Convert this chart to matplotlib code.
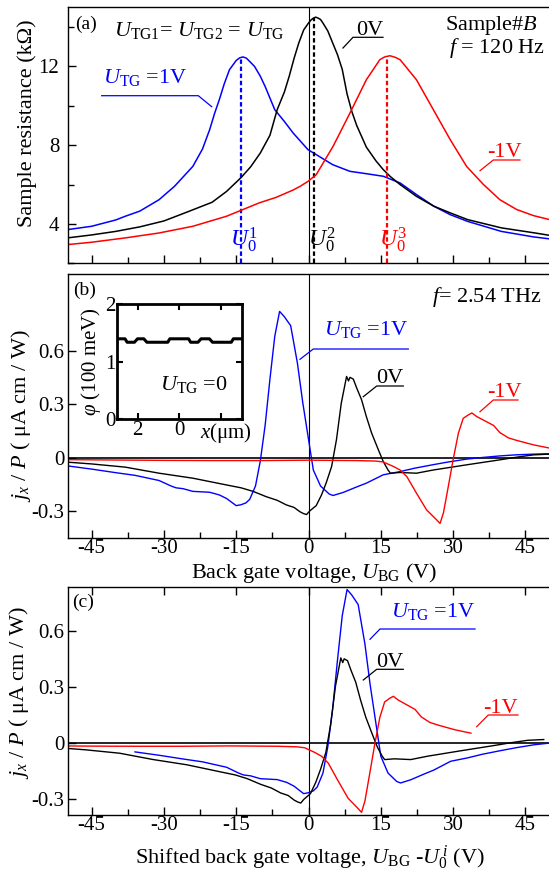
import numpy as np
import matplotlib
matplotlib.use("Agg")
import matplotlib.pyplot as plt
from matplotlib.lines import Line2D
from matplotlib.ticker import MultipleLocator, FixedLocator, FuncFormatter

plt.rcParams['font.family'] = ['Liberation Serif', 'DejaVu Serif']
plt.rcParams['mathtext.fontset'] = 'custom'
plt.rcParams['mathtext.rm'] = 'Liberation Serif'
plt.rcParams['mathtext.it'] = 'Liberation Serif:italic'
plt.rcParams['mathtext.bf'] = 'Liberation Serif:bold'
plt.rcParams['font.size'] = 16
plt.rcParams['xtick.labelsize'] = 15
plt.rcParams['ytick.labelsize'] = 15
plt.rcParams['axes.unicode_minus'] = False

# ---- panel (a): sample resistance (kOhm) vs back gate voltage (V)
a_blue_v = [-50, -45, -40, -38, -35, -31, -27.8, -24, -22, -20.5, -19.5, -18.5, -17.5, -16.4, -15,
            -14.3, -13.6, -12.9, -12.2, -11.2, -10, -9, -7, -5, -3.2, -0.1, 1.6, 5, 8.6, 12, 15.5,
            19, 22.4, 26, 29.4, 33, 40, 46.7, 50]
a_blue_r = [3.71, 3.88, 4.2, 4.39, 4.65, 5.23, 5.91, 6.92, 7.8, 8.79, 9.6, 10.31, 11.1, 11.83, 12.3,
            12.43, 12.48, 12.42, 12.25, 12.0, 11.5, 10.98, 9.8, 9.2, 8.62, 7.77, 7.52, 7.01, 6.67,
            6.55, 6.42, 6.08, 5.49, 4.9, 4.47, 4.13, 3.62, 3.34, 3.24]

a_black_v = [-50, -45, -40, -35, -30, -25, -20, -17, -14, -12, -10, -8, -6.5, -5, -4, -3, -2, -1, 0,
             0.5, 1, 1.5, 2, 2.5, 3, 4, 5, 6, 7, 8, 9, 10, 11, 12, 14, 15.5, 17, 19, 22.4, 26, 29.4,
             33, 40, 47, 50]
a_black_r = [3.29, 3.44, 3.62, 3.85, 4.15, 4.62, 5.1, 5.65, 6.35, 6.9, 7.6, 8.5, 9.8, 10.7, 11.5,
             12.4, 13.2, 13.85, 14.2, 14.35, 14.45, 14.5, 14.45, 14.38, 14.2, 13.8, 13.2, 12.6,
             11.85, 10.6, 9.7, 9.0, 8.45, 7.9, 7.2, 6.76, 6.4, 6.0, 5.4, 4.9, 4.56, 4.22, 3.8,
             3.54, 3.42]

a_red_v = [-50, -45, -38, -31, -24, -17, -13.6, -10.2, -6.7, -3.2, -1.8, -0.1, 1.6, 3.3, 5.1, 8.6,
           12, 14.8, 15.8, 16.9, 18, 19, 22.4, 25.9, 29.4, 32.8, 36.3, 39.7, 43.2, 46.7, 50]
a_red_r = [2.95, 3.07, 3.29, 3.54, 3.88, 4.39, 4.73, 5.07, 5.35, 5.72, 5.9, 6.16, 6.5, 7.2, 7.94,
           9.63, 11.32, 12.34, 12.48, 12.54, 12.46, 12.34, 11.32, 9.8, 8.28, 6.92, 6.0, 5.23, 4.73,
           4.42, 4.22]

# charge neutrality points U0^i for U_TG = 1V, 0V, -1V
u0 = [-14.0, 1.2, 16.3]

# ---- panel (b): photocurrent j_x/P vs back gate voltage
b_blue_v = [-50, -45, -40, -36, -31, -28.5, -27.5, -26, -24, -20.5, -18.5, -17, -16, -15, -14, -13,
            -12.2, -11, -10, -9, -8, -7, -6, -5, -3.7, -2.3, -1.2, -0.1, 1.0, 2.5, 4.3, 5.1, 7.2,
            10, 12, 15.5, 19, 22, 25.9, 29, 32.8, 36, 39.7, 43, 46.7, 50]
b_blue_j = [-0.047, -0.065, -0.085, -0.1, -0.129, -0.16, -0.17, -0.175, -0.19, -0.195, -0.21, -0.23,
            -0.25, -0.27, -0.265, -0.255, -0.235, -0.16, -0.02, 0.18, 0.44, 0.68, 0.82, 0.79, 0.74,
            0.53, 0.31, 0.12, -0.07, -0.16, -0.205, -0.213, -0.196, -0.165, -0.144, -0.097, -0.079,
            -0.06, -0.04, -0.025, -0.009, 0.0, 0.009, 0.015, 0.019, 0.021]

b_black_v = [-50, -45, -38, -31, -24, -17, -14, -11.5, -8.75, -6.5, -4.6, -3, -1.8, -1, -0.4, 0.25,
             1.6, 2.7, 3.7, 4.8, 5.8, 6.8, 7.9, 8.3, 8.6, 9.3, 10, 11, 12, 13.1, 14.5, 15.5, 16.5,
             17, 19, 22.4, 25.9, 32.8, 39.7, 43.2, 46.7, 50]
b_black_j = [-0.026, -0.036, -0.054, -0.088, -0.116, -0.154, -0.17, -0.19, -0.22, -0.24, -0.266,
             -0.28, -0.304, -0.315, -0.32, -0.30, -0.27, -0.21, -0.14, -0.05, 0.1, 0.305, 0.455,
             0.43, 0.45, 0.44, 0.39, 0.325, 0.23, 0.137, 0.043, -0.022, -0.07, -0.088, -0.084,
             -0.088, -0.07, -0.041, -0.013, 0.002, 0.015, 0.019]

b_red_v = [-50, -40, -30, -20, -10, 0, 10, 14, 15.5, 17.6, 19, 20.4, 22.4, 24.5, 26.6, 27.3, 28, 29,
           30, 31.1, 32.1, 33.2, 33.9, 34.9, 37, 38.4, 39.7, 41.5, 43.2, 46.7, 50]
b_red_j = [-0.012, -0.014, -0.016, -0.017, -0.017, -0.015, -0.017, -0.02, -0.025, -0.05, -0.07,
           -0.107, -0.2, -0.294, -0.35, -0.37, -0.31, -0.163, -0.013, 0.137, 0.22, 0.24, 0.25, 0.23,
           0.2, 0.18, 0.14, 0.11, 0.096, 0.071, 0.053]

# ---- inset: potential profile phi (100 meV) vs x (um)
ins_x = [-3.0, -2.6, -2.5, -2.15, -2.0, -1.7, -1.55, -0.55, -0.45, 0.45, 0.55, 0.9, 1.05, 1.45, 1.6,
         2.5, 2.6, 3.0]
ins_phi = [1.40, 1.40, 1.34, 1.34, 1.40, 1.40, 1.34, 1.34, 1.40, 1.40, 1.34, 1.34, 1.40, 1.40, 1.34,
           1.34, 1.40, 1.40]

colors = ['blue', 'black', 'red']
x_ticks = [-45, -30, -15, 0, 15, 30, 45]

W, H = 549, 875


def box(l, t, r, b):
    return [l / W, 1 - b / H, (r - l) / W, (b - t) / H]


def ftext(x, y, s, **kw):
    fig.text(x / W, 1 - y / H, s, **kw)


def leader(x0, y0, x1, y1, x2, color):
    fig.add_artist(Line2D([x0 / W, x1 / W, x2 / W], [1 - y0 / H, 1 - y1 / H, 1 - y1 / H],
                          color=color, lw=0.9))


def style_axes(ax):
    ax.set_xlim(-50, 50)
    ax.xaxis.set_major_locator(FixedLocator(x_ticks))
    ax.xaxis.set_minor_locator(MultipleLocator(7.5))
    ax.tick_params(which='both', direction='in', top=False, right=False, width=1)
    ax.tick_params(which='major', length=6)
    ax.tick_params(which='minor', length=4)
    for sp in ax.spines.values():
        sp.set_linewidth(1.0)
    ax.axvline(0, color='k', lw=0.8, zorder=1)


fig = plt.figure(figsize=(W / 100, H / 100), dpi=100)

axA = fig.add_axes(box(67.5, 7.3, 549.5, 263.3))
axB = fig.add_axes(box(67.5, 274, 549.5, 537.7))
axC = fig.add_axes(box(67.5, 587.3, 549.5, 815))

# ---- (a)
style_axes(axA)
axA.set_ylim(2, 15)
axA.yaxis.set_major_locator(FixedLocator([4, 8, 12]))
axA.yaxis.set_minor_locator(MultipleLocator(2))
axA.tick_params(axis='x', labelbottom=False)
axA.tick_params(axis='y', pad=6)
a_sets = [(a_blue_v, a_blue_r), (a_black_v, a_black_r), (a_red_v, a_red_r)]
for (v, r), c, u in zip(a_sets, colors, u0):
    axA.plot(v, r, color=c, lw=1.1)
    axA.plot([u, u], [2, np.interp(u, v, r)], color=c, lw=1.6, ls=(0, (2, 1.2)))
axA.set_ylabel('Sample resistance (kΩ)')
axA.yaxis.set_label_coords(-0.063, 0.548)

# ---- (b) and (c)
fmt = FuncFormatter(lambda v, p: '0' if abs(v) < 1e-9 else f'{v:.1f}')
b_sets = [(b_blue_v, b_blue_j), (b_black_v, b_black_j), (b_red_v, b_red_j)]
for ax, lim in [(axB, (-0.45, 1.03)), (axC, (-0.384, 0.832))]:
    style_axes(ax)
    ax.set_ylim(*lim)
    ax.yaxis.set_major_locator(FixedLocator([-0.3, 0, 0.3, 0.6]))
    ax.yaxis.set_major_formatter(fmt)
    ax.tick_params(axis='y', pad=2)
    ax.tick_params(axis='x', pad=1)
    ax.axhline(0, color='k', lw=1.2, zorder=1)
    ax.set_ylabel(r'$j_x$ / $P$ ( μA cm / W)')

for (v, j), c, u in zip(b_sets, colors, u0):
    axB.plot(v, j, color=c, lw=1.0)
    axC.plot(np.array(v) - u, j, color=c, lw=1.0)

axC.tick_params(axis='x', which='major', top=True)
axB.yaxis.set_label_coords(-0.072, 0.465)
axC.yaxis.set_label_coords(-0.075, 0.54)
axB.set_xlabel(r'Back gate voltage, $U_{\rm BG}$ (V)', va='baseline')
axB.xaxis.set_label_coords(0.511, -0.153)
axC.set_xlabel(r'Shifted back gate voltage, $U_{\rm BG}$ -$U_0^{\,i}$ (V)', va='baseline')
axC.xaxis.set_label_coords(0.503, -0.213)

# ---- inset
ins = fig.add_axes(box(116.7, 304.3, 241.7, 419.3))
ins.plot(ins_x, ins_phi, color='k', lw=2.2)
ins.set_xlim(-3, 3)
ins.set_ylim(0, 2)
ins.xaxis.set_major_locator(FixedLocator([-2, 0, 2]))
ins.set_xticklabels(['2', '0', ''])
ins.yaxis.set_major_locator(FixedLocator([0, 1, 2]))
ins.tick_params(direction='in', top=True, right=True, length=4, width=1.5, pad=1)
for sp in ins.spines.values():
    sp.set_linewidth(2)
ins.set_ylabel(r'$\varphi$ (100 meV)', fontsize=15)
ins.yaxis.set_label_coords(-0.11, 0.5)

# ---- texts and labels
ftext(75, 29, '(a)', fontsize=14, va='baseline')
ftext(114, 36, r'$U_{\rm TG1}$= $U_{\rm TG2}$ = $U_{\rm TG}$', va='baseline')
ftext(538, 30, r'Sample#$B$', ha='right', va='baseline')
ftext(545, 53, r'$f$ = 120 Hz', ha='right', va='baseline')
ftext(103, 83, r'$U_{\rm TG}$ =1V', color='blue', va='baseline')
leader(211.7, 106.7, 198.3, 95.7, 101.7, 'blue')
ftext(383, 35, '0V', ha='right', va='baseline')
leader(343, 48, 353, 37.3, 383, 'black')
ftext(522, 157, '-1V', color='red', ha='right', va='baseline')
leader(480, 170.7, 493.3, 160, 520, 'red')
for xp, lab, c in zip([243.5, 322, 393], ['1', '2', '3'], colors):
    ftext(xp, 240, r'$U_0^{%s}$' % lab, color=c, ha='center', va='center', fontsize=17)

ftext(73, 295, '(b)', fontsize=14, va='baseline')
ftext(542, 302, r'$f$= 2.54 THz', ha='right', va='baseline')
ftext(408, 335, r'$U_{\rm TG}$ =1V', color='blue', ha='right', va='baseline')
leader(300, 359.3, 313.3, 349, 408.3, 'blue')
ftext(403, 383, '0V', ha='right', va='baseline')
leader(363.3, 396.7, 376.7, 386, 403.3, 'black')
ftext(522, 397, '-1V', color='red', ha='right', va='baseline')
leader(480, 411.7, 493.3, 400, 518, 'red')
ftext(160, 390, r'$U_{\rm TG}$ =0', va='baseline')
ftext(200, 433, r'$x$(μm)', va='center', fontsize=15)

ftext(72, 607, '(c)', fontsize=14, va='baseline')
ftext(475, 617, r'$U_{\rm TG}$ =1V', color='blue', ha='right', va='baseline')
leader(370, 639.3, 380, 629, 475, 'blue')
ftext(403, 667, '0V', ha='right', va='baseline')
leader(363.3, 680, 376.7, 669.3, 403.3, 'black')
ftext(518, 713, '-1V', color='red', ha='right', va='baseline')
leader(476.7, 726.7, 488.3, 715, 518, 'red')

fig.savefig('out.png', dpi=100)
